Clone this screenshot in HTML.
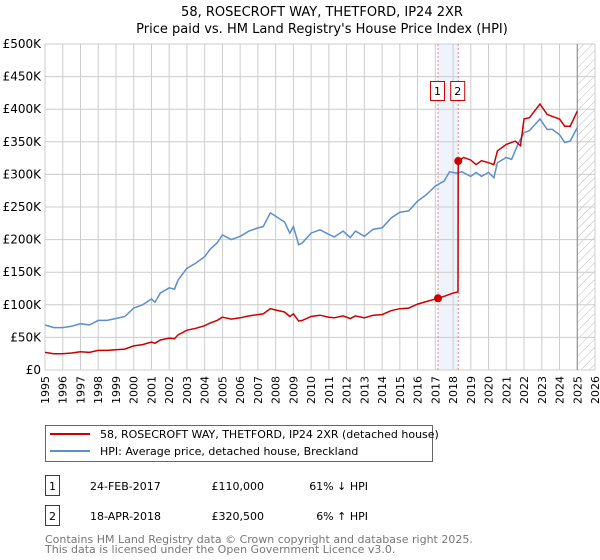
<!DOCTYPE html>
<html><head><meta charset="utf-8"><style>
body{margin:0;background:#fff;}
svg{font-family:"DejaVu Sans","Liberation Sans",sans-serif;display:block;}
</style></head><body>
<svg id="chart" width="600" height="560" viewBox="0 0 600 560">
<defs><pattern id="hatch" width="6" height="6" patternUnits="userSpaceOnUse" patternTransform="rotate(45)"><line x1="0" y1="0" x2="0" y2="6" stroke="#bbb" stroke-width="1"/></pattern></defs>
<text x="322" y="16" text-anchor="middle" font-size="13">58, ROSECROFT WAY, THETFORD, IP24 2XR</text>
<text x="322" y="33" text-anchor="middle" font-size="13">Price paid vs. HM Land Registry's House Price Index (HPI)</text>
<g id="grid"></g>
<g id="marks"></g>
<g id="axes"></g>
<g>
<rect x="45.5" y="425.5" width="387" height="36" fill="#fff" stroke="#666"/>
<line x1="50" y1="434" x2="90" y2="434" stroke="#cc0000" stroke-width="2"/>
<text x="100" y="438" font-size="11">58, ROSECROFT WAY, THETFORD, IP24 2XR (detached house)</text>
<line x1="50" y1="451" x2="90" y2="451" stroke="#5b8fd0" stroke-width="2"/>
<text x="100" y="455" font-size="11">HPI: Average price, detached house, Breckland</text>
</g>
<g font-size="11">
<rect x="45.5" y="475.5" width="14" height="20" fill="#fff" stroke="#cc0000"/>
<text x="52.5" y="490" text-anchor="middle">1</text>
<text x="90" y="490">24-FEB-2017</text>
<text x="264" y="490" text-anchor="end">£110,000</text>
<text x="368" y="490" text-anchor="end">61% ↓ HPI</text>
<rect x="45.5" y="505.5" width="14" height="20" fill="#fff" stroke="#cc0000"/>
<text x="52.5" y="520" text-anchor="middle">2</text>
<text x="90" y="520">18-APR-2018</text>
<text x="264" y="520" text-anchor="end">£320,500</text>
<text x="368" y="520" text-anchor="end">6% ↑ HPI</text>
</g>
<text x="45" y="543" font-size="11" fill="#777">Contains HM Land Registry data © Crown copyright and database right 2025.</text>
<text x="45" y="553" font-size="11" fill="#777">This data is licensed under the Open Government Licence v3.0.</text>
</svg>
<script>
const hpiDates=[1995,1995.5,1996,1996.5,1997,1997.5,1998,1998.5,1999,1999.5,2000,2000.5,2001,2001.2,2001.5,2002,2002.3,2002.5,2003,2003.5,2004,2004.3,2004.7,2005,2005.5,2006,2006.5,2007,2007.3,2007.7,2008,2008.5,2008.8,2009,2009.3,2009.5,2010,2010.5,2011,2011.3,2011.8,2012.2,2012.5,2013,2013.5,2014,2014.5,2015,2015.5,2016,2016.5,2017,2017.5,2017.8,2018.2,2018.5,2019,2019.3,2019.6,2020,2020.3,2020.5,2021,2021.3,2021.7,2022,2022.3,2022.9,2023.3,2023.6,2024,2024.3,2024.6,2025];
const hpiValues=[69,65,65,67,71,69,76,76,79,82,95,100,109,104,118,126,124,138,156,164,174,185,195,207,200,205,213,218,220,241,236,227,210,220,192,195,210,215,208,204,213,203,213,205,216,218,233,242,244,259,269,282,290,304,302,304,297,303,297,303,295,318,326,323,349,364,367,385,369,369,361,349,351,372];
const priceDates=[1995,1995.5,1996,1996.5,1997,1997.5,1998,1998.5,1999,1999.5,2000,2000.5,2001,2001.2,2001.5,2002,2002.3,2002.5,2003,2003.5,2004,2004.3,2004.7,2005,2005.5,2006,2006.5,2007,2007.3,2007.7,2008,2008.5,2008.8,2009,2009.3,2009.5,2010,2010.5,2011,2011.3,2011.8,2012.2,2012.5,2013,2013.5,2014,2014.5,2015,2015.5,2016,2016.5,2017.15,2017.5,2018,2018.28,2018.29,2018.6,2019,2019.3,2019.6,2020,2020.3,2020.5,2021,2021.5,2021.8,2022,2022.3,2022.9,2023.3,2023.6,2024,2024.3,2024.6,2025];
const priceValues=[27,25,25,26,28,27,30,30,31,32,37,39,43,41,46,49,48,54,61,64,68,72,76,81,78,80,83,85,86,94,92,89,82,86,75,76,82,84,81,80,83,79,83,80,84,85,91,94,95,101,105,110,113,118,120,320.5,326,322,315,321,318,315,336,346,351,344,385,387,408,392,389,385,374,374,397];
const saleDates=[2017.15,2018.29];
const saleValues=[110,320.5];
const saleLabels=["1","2"];
const yTicks=[0,50,100,150,200,250,300,350,400,450,500];
const yTickLabels=["£0","£50K","£100K","£150K","£200K","£250K","£300K","£350K","£400K","£450K","£500K"];
const xTicks=[1995,1996,1997,1998,1999,2000,2001,2002,2003,2004,2005,2006,2007,2008,2009,2010,2011,2012,2013,2014,2015,2016,2017,2018,2019,2020,2021,2022,2023,2024,2025,2026];

const NS="http://www.w3.org/2000/svg";
const L=45,R=595,T=44,B=370;
const xs=d=>L+(d-1995)*(R-L)/31;
const ys=v=>B-v*(B-T)/500;
function mk(tag,attrs,parent){const e=document.createElementNS(NS,tag);for(const k in attrs)e.setAttribute(k,attrs[k]);parent.appendChild(e);return e;}
const grid=document.getElementById('grid'),marks=document.getElementById('marks'),axes=document.getElementById('axes');
// shaded region between sales
let sh=mk('rect',{x:xs(saleDates[0]),y:T,width:xs(saleDates[1])-xs(saleDates[0]),height:B-T,fill:'#eef3fc'},grid);


// hatch future
let ht=mk('rect',{x:xs(2025),y:T,width:R-xs(2025),height:B-T,fill:'url(#hatch)'},grid);


xTicks.forEach(t=>{const g=mk('line',{x1:xs(t),x2:xs(t),y1:T,y2:B,stroke:'#ccc','stroke-width':1},grid);


const tx=mk('text',{x:0,y:0,'font-size':11,'text-anchor':'end',transform:`translate(${xs(t)+4},${B+6}) rotate(-90)`},axes);tx.textContent=t;

});
yTicks.forEach((t,i)=>{const g=mk('line',{x1:L,x2:R,y1:ys(t),y2:ys(t),stroke:'#ccc','stroke-width':1},grid);


const tx=mk('text',{x:L-4,y:ys(t)+4,'font-size':12,'text-anchor':'end'},axes);tx.textContent=yTickLabels[i];

});
let nl=mk('line',{x1:xs(2025),x2:xs(2025),y1:T,y2:B,stroke:'#888','stroke-width':1},grid);


saleDates.forEach((d,i)=>{const l=mk('line',{x1:xs(d),x2:xs(d),y1:T,y2:B,stroke:'#f08080','stroke-width':1,'stroke-dasharray':'2,2'},grid);


const r=mk('rect',{x:xs(d)-7.5,y:81.5,width:14,height:19,fill:'#fff',stroke:'#cc0000'},marks);


const t=mk('text',{x:xs(d)-0.5,y:95,'font-size':11,'text-anchor':'middle'},marks);t.textContent=saleLabels[i];

});
function path(ds,vs){return ds.map((d,i)=>(i?'L':'M')+xs(d).toFixed(1)+','+ys(vs[i]).toFixed(1)).join(' ');}
const hp=mk('path',{d:path(hpiDates,hpiValues),fill:'none',stroke:'#5b8fd0','stroke-width':1.5},marks);


const pp=mk('path',{d:path(priceDates,priceValues),fill:'none',stroke:'#cc0000','stroke-width':1.5},marks);


saleDates.forEach((d,i)=>{const c=mk('circle',{cx:xs(d),cy:ys(saleValues[i]),r:4,fill:'#cc0000'},marks);

});
</script>
</body></html>
